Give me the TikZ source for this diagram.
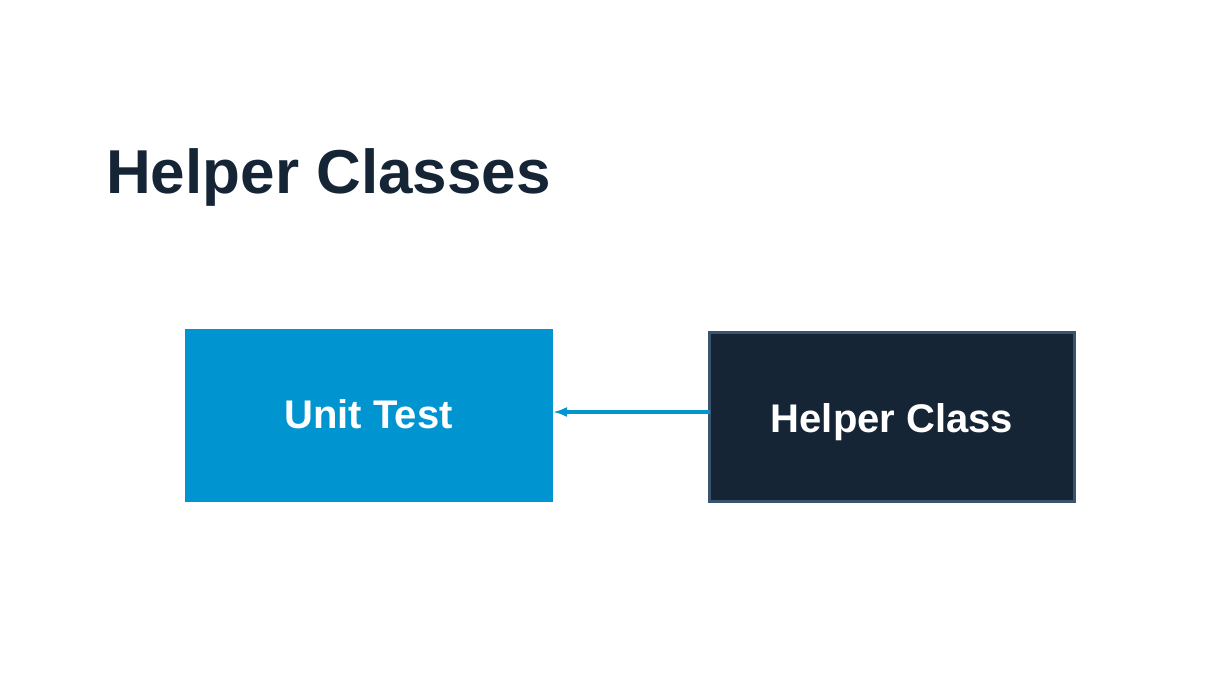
\documentclass[tikz,border=0pt]{standalone}
\usepackage{fontspec}
\setmainfont{Liberation Sans}
\usetikzlibrary{arrows.meta}
\definecolor{navy}{HTML}{162536}
\definecolor{navyedge}{HTML}{3A5470}
\definecolor{bluebox}{HTML}{0095D0}
\tikzset{
  box/.style={rectangle, inner sep=0pt, outer sep=0pt, anchor=north west},
  lbl/.style={text=white, font=\fontsize{40}{48}\selectfont\bfseries},
}
\begin{document}
\begin{tikzpicture}[x=1pt,y=-1pt]
\useasboundingbox (0,0) rectangle (1215,696);
\node[anchor=base west, inner sep=0pt, text=navy, font=\fontsize{62}{70}\selectfont\bfseries] (title) at (106,193) {Helper Classes};
\node[box, fill=bluebox, minimum width=368pt, minimum height=173pt] (unit) at (185,329) {};
\node[lbl, anchor=base] (unitlbl) at (368.5,428) {Unit Test};
\node[box, fill=navy, draw=navyedge, line width=3pt, minimum width=365pt, minimum height=169pt] (helper) at (709.5,332.5) {};
\node[lbl, anchor=base] (helperlbl) at (892,432) {Helper Class};
\draw[bluebox, line width=4pt, -{Latex[length=14pt,width=10pt]}] (helper.west |- 0,412) coordinate (hs) -- (unit.east |- hs);
\end{tikzpicture}
\end{document}
